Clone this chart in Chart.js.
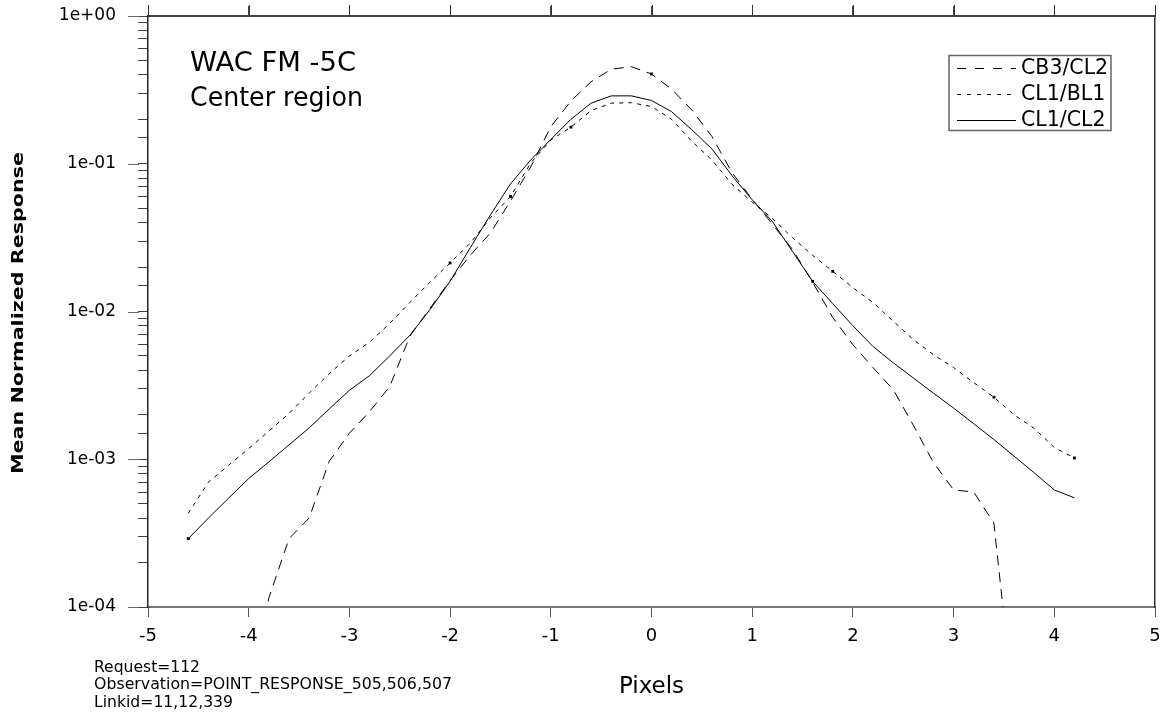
<!DOCTYPE html>
<html>
<head>
<meta charset="utf-8">
<script src="https://cdn.jsdelivr.net/npm/chart.js@4.4.0/dist/chart.umd.min.js"></script>
<style>
  html, body { margin: 0; padding: 0; background: #fff; }
  #wrap { width: 1167px; height: 717px; }
</style>
</head>
<body>
<div id="wrap"><canvas id="psfChart" width="1167" height="717"></canvas></div>
<script>
// pixel offsets from the centre (shared by all three curves)
const pixelOffsets = [-4.6, -4.4, -4.2, -4.0, -3.8, -3.6, -3.4, -3.2, -3.0, -2.8, -2.6, -2.4, -2.2, -2.0, -1.8,
    -1.6, -1.4, -1.2, -1.0, -0.8, -0.6, -0.4, -0.2, 0, 0.2, 0.4, 0.6, 0.8, 1.0, 1.2, 1.4, 1.6, 1.8, 2.0, 2.2,
    2.4, 2.6, 2.8, 3.0, 3.2, 3.4, 3.6, 3.8, 4.0, 4.2];

const cb3cl2 = [null, null, null, 3e-5, 1.15e-4, 2.9e-4, 4.0e-4, 9.7e-4, 1.5e-3, 2.1e-3, 3.1e-3, 6.8e-3, 1.05e-2, 1.62e-2, 2.4e-2,
    3.4e-2, 5.6e-2, 9.5e-2, 0.178, 0.266, 0.359, 0.436, 0.454, 0.405, 0.32, 0.231, 0.153, 0.087, 0.0575, 0.039, 0.0263, 0.0158, 9.1e-3, 5.96e-3, 4.17e-3,
    2.96e-3, 1.7e-3, 9.5e-4, 6.2e-4, 6.0e-4, 3.7e-4, 2e-5, null, null, null];

const cl1bl1 = [4.3e-4, 7.0e-4, 9.1e-4, 1.18e-3, 1.55e-3, 2.04e-3, 2.8e-3, 3.8e-3, 5.0e-3, 6.2e-3, 8.3e-3, 1.15e-2, 1.58e-2, 2.13e-2, 2.9e-2,
    4.3e-2, 6.0e-2, 0.101, 0.145, 0.177, 0.229, 0.257, 0.259, 0.244, 0.2, 0.142, 0.106, 0.0725, 0.055, 0.0427, 0.0316, 0.024, 0.0187, 0.0145, 0.0115,
    8.6e-3, 6.45e-3, 5.1e-3, 4.17e-3, 3.3e-3, 2.63e-3, 2.0e-3, 1.62e-3, 1.2e-3, 1.02e-3];

const cl1cl2 = [2.9e-4, 4.0e-4, 5.45e-4, 7.4e-4, 9.6e-4, 1.25e-3, 1.63e-3, 2.19e-3, 2.93e-3, 3.68e-3, 5.0e-3, 6.9e-3, 1.03e-2, 1.6e-2, 2.7e-2,
    4.5e-2, 7.3e-2, 0.106, 0.146, 0.2, 0.257, 0.288, 0.288, 0.268, 0.225, 0.17, 0.126, 0.083, 0.057, 0.0407, 0.0255, 0.016, 0.0113, 8.0e-3, 5.8e-3,
    4.5e-3, 3.55e-3, 2.8e-3, 2.22e-3, 1.74e-3, 1.36e-3, 1.05e-3, 8.1e-4, 6.2e-4, 5.48e-4];

const seriesLabels = ["CB3/CL2", "CL1/BL1", "CL1/CL2"];

// offsets where the plot shows a small square symbol
const cb3Marks = [0];
const bl1Marks = [-2.0, -1.4, -0.8, 1.8, 3.4, 4.2];
const cl2Marks = [-4.6, 1.6];

const titleLines = ["WAC FM -5C", "Center region"];
const notes = ["Request=112", "Observation=POINT_RESPONSE_505,506,507", "Linkid=11,12,339"];
const yTitle = "Mean Normalized Response";
const xTitle = "Pixels";

const FONT = "'DejaVu Sans', 'Liberation Sans', sans-serif";
Chart.defaults.font.family = FONT;
Chart.defaults.color = "#000";

function toPoints(values) {
    return pixelOffsets.map((x, i) => ({ x: x, y: values[i] }));
}

function markRadius(marks) {
    return function (c) {
        const p = c.raw;
        if (!p) return 0;
        return marks.some(m => Math.abs(m - p.x) < 1e-6) ? 2 : 0;
    };
}

function fitText(ctx, text, x, y, font, width) {
    ctx.save();
    ctx.font = font;
    const w = ctx.measureText(text).width;
    ctx.translate(x, y);
    if (width) ctx.scale(width / w, 1);
    ctx.fillText(text, 0, 0);
    ctx.restore();
}

function noPadding(s) {
    s.paddingTop = 0;
    s.paddingBottom = 0;
    s.paddingLeft = 0;
    s.paddingRight = 0;
}

const decorPlugin = {
    id: "decor",
    afterDraw(chart) {
        const ctx = chart.ctx;
        const y = chart.scales.y;
        const x = chart.scales.x;
        const area = chart.chartArea;

        ctx.save();
        ctx.lineWidth = 1;

        // longer tick marks on the decades
        ctx.strokeStyle = "#666";
        y.ticks.forEach(t => {
            const e = Math.log10(t.value);
            if (Math.abs(e - Math.round(e)) > 1e-6) return;
            const py = Math.round(y.getPixelForValue(t.value)) + 0.5;
            ctx.beginPath();
            ctx.moveTo(area.left - 20, py);
            ctx.lineTo(area.left - 9, py);
            ctx.stroke();
        });

        // tick marks on the top edge
        ctx.strokeStyle = "#333";
        x.ticks.forEach(t => {
            const px = Math.round(x.getPixelForValue(t.value)) + 0.5;
            ctx.beginPath();
            ctx.moveTo(px, area.top - 11);
            ctx.lineTo(px, area.top);
            ctx.stroke();
        });
        ctx.restore();

        ctx.save();
        ctx.fillStyle = "#000";
        ctx.textBaseline = "alphabetic";
        ctx.textAlign = "left";

        // y axis title (rotated)
        ctx.save();
        ctx.font = "bold 15px " + FONT;
        const yw = ctx.measureText(yTitle).width;
        ctx.translate(19, 313);
        ctx.rotate(-Math.PI / 2);
        ctx.scale(322 / yw, 1);
        ctx.textAlign = "center";
        ctx.textBaseline = "middle";
        ctx.fillText(yTitle, 0, 0);
        ctx.restore();

        // title inside plot
        fitText(ctx, titleLines[0], 190, 71, "26px " + FONT, 166);
        fitText(ctx, titleLines[1], 190, 106, "26px " + FONT, 173);

        // run notes under the axis
        fitText(ctx, notes[0], 94, 672, "15.5px " + FONT, 106);
        fitText(ctx, notes[1], 94, 689, "15.5px " + FONT, 358);
        fitText(ctx, notes[2], 94, 707, "15.5px " + FONT, 139);

        // legend box
        ctx.strokeStyle = "#666";
        ctx.lineWidth = 1.5;
        ctx.strokeRect(949, 55.5, 162, 75);
        ctx.font = "20.5px " + FONT;
        ctx.textBaseline = "middle";
        chart.data.datasets.forEach((ds, i) => {
            const ly = 68 + i * 26;
            ctx.save();
            ctx.strokeStyle = "#000";
            ctx.lineWidth = 1;
            ctx.setLineDash(ds.legendDash || []);
            ctx.beginPath();
            ctx.moveTo(957, ly + 0.5);
            ctx.lineTo(1016, ly + 0.5);
            ctx.stroke();
            ctx.restore();
            ctx.fillText(ds.label, 1021, ly + 1);
        });
        ctx.restore();
    }
};

const yTickFormat = function (v) {
    const e = Math.log10(v);
    if (Math.abs(e - Math.round(e)) > 1e-6) return "";
    const n = Math.round(e);
    return "1e" + (n < 0 ? "-" : "+") + String(Math.abs(n)).padStart(2, "0");
};

new Chart(document.getElementById("psfChart").getContext("2d"), {
    type: "line",
    data: {
        datasets: [{
            label: seriesLabels[0],
            data: toPoints(cb3cl2),
            borderColor: "#000",
            backgroundColor: "#000",
            borderWidth: 1,
            borderDash: [10, 7],
            legendDash: [9, 9],
            pointStyle: "rect",
            pointRadius: markRadius(cb3Marks),
            pointBorderWidth: 0,
            xAxisID: "x",
            yAxisID: "y"
        }, {
            label: seriesLabels[1],
            data: toPoints(cl1bl1),
            borderColor: "#000",
            backgroundColor: "#000",
            borderWidth: 1,
            borderDash: [4, 5],
            legendDash: [4, 6],
            pointStyle: "rect",
            pointRadius: markRadius(bl1Marks),
            pointBorderWidth: 0,
            xAxisID: "x",
            yAxisID: "y"
        }, {
            label: seriesLabels[2],
            data: toPoints(cl1cl2),
            borderColor: "#000",
            backgroundColor: "#000",
            borderWidth: 1,
            legendDash: [],
            pointStyle: "rect",
            pointRadius: markRadius(cl2Marks),
            pointBorderWidth: 0,
            xAxisID: "x",
            yAxisID: "y"
        }]
    },
    options: {
        responsive: false,
        animation: false,
        layout: { padding: 0 },
        plugins: { legend: { display: false }, tooltip: { enabled: false } },
        elements: { line: { tension: 0, fill: false } },
        scales: {
            x: {
                type: "linear",
                position: "bottom",
                min: -5,
                max: 5,
                ticks: { stepSize: 1, font: { size: 18 }, color: "#000", padding: 9, callback: v => String(v) },
                grid: { drawOnChartArea: false, tickLength: 10, color: "#555" },
                border: { color: "#777", width: 2 },
                title: { display: true, text: xTitle, font: { size: 23 }, color: "#000", padding: { top: 0, bottom: 16 } },
                afterFit: s => { s.height = 110; noPadding(s); }
            },
            xTop: {
                type: "linear",
                position: "top",
                min: -5,
                max: 5,
                ticks: { display: false, stepSize: 1 },
                grid: { drawOnChartArea: false, tickLength: 10, color: "#444" },
                border: { color: "#444", width: 2 },
                afterFit: s => { s.height = 16; noPadding(s); }
            },
            y: {
                type: "logarithmic",
                position: "left",
                min: 1e-4,
                max: 1,
                ticks: { autoSkip: false, font: { size: 17 }, color: "#000", padding: 22, callback: yTickFormat },
                grid: { drawOnChartArea: false, tickLength: 10, color: "#444" },
                border: { color: "#222", width: 1.5 },
                afterFit: s => { s.width = 148; noPadding(s); }
            },
            yRight: {
                type: "linear",
                position: "right",
                ticks: { display: false },
                grid: { display: false },
                border: { color: "#333", width: 1.5 },
                afterFit: s => { s.width = 12; noPadding(s); }
            }
        }
    },
    plugins: [decorPlugin]
});
</script>
</body>
</html>
